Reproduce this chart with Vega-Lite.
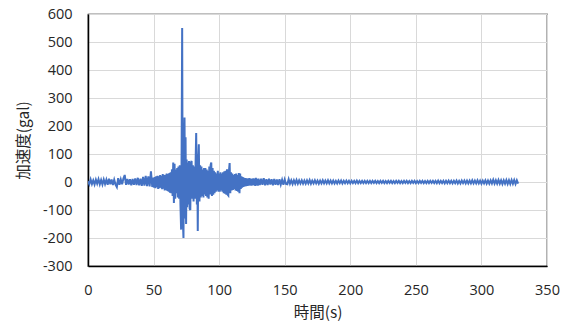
{
  "$schema": "https://vega.github.io/schema/vega-lite/v6.json",
  "autosize": {"type": "none"},
  "padding": {"left": 88, "top": 14, "right": 22, "bottom": 61},
  "width": 459,
  "height": 252,
  "background": "#ffffff",
  "config": {
    "view": {"stroke": "#000000", "strokeWidth": 1.2},
    "axis": {
      "labelFont": "Open Sans",
      "labelFontSize": 14.5,
      "labelColor": "#262626",
      "labelFlush": false,
      "labelOverlap": false,
      "titleFont": "Noto Sans CJK JP",
      "titleFontSize": 15.5,
      "titleFontWeight": "normal",
      "titleColor": "#262626",
      "gridColor": "#d9d9d9",
      "gridWidth": 1,
      "ticks": false,
      "domain": true,
      "domainColor": "#000000",
      "domainWidth": 1.5
    }
  },
  "layer": [
    {
      "data": {
        "values": [
          {"t":0,"a":3},{"t":1,"a":-8},{"t":2,"a":9},{"t":3,"a":-7},{"t":4,"a":6},{"t":5,"a":-9},{"t":6,"a":8},{"t":7,"a":-6},{"t":8,"a":10},{"t":9,"a":-8},
          {"t":10,"a":7},{"t":11,"a":-9},{"t":12,"a":9},{"t":13,"a":-7},{"t":14,"a":8},{"t":15,"a":-10},{"t":16,"a":12},{"t":17,"a":-8},{"t":18,"a":9},{"t":19,"a":-11},
          {"t":20,"a":8},{"t":21,"a":-9},{"t":22,"a":-18},{"t":23,"a":14},{"t":24,"a":-10},{"t":25,"a":9},{"t":26,"a":-8},{"t":27,"a":12},{"t":28,"a":25},{"t":29,"a":-10},
          {"t":30,"a":11},{"t":31,"a":-9},{"t":32,"a":10},{"t":33,"a":-12},{"t":34,"a":11},{"t":35,"a":-10},{"t":36,"a":13},{"t":37,"a":-11},{"t":38,"a":15},{"t":39,"a":-12},
          {"t":40,"a":12},{"t":41,"a":-14},{"t":42,"a":18},{"t":43,"a":-13},{"t":44,"a":22},{"t":45,"a":-15},{"t":46,"a":20},{"t":47,"a":-16},{"t":48,"a":38},{"t":49,"a":-18},
          {"t":50,"a":16},{"t":50.5,"a":-20},{"t":51,"a":18},{"t":51.5,"a":-22},{"t":52,"a":20},{"t":52.5,"a":-18},{"t":53,"a":22},{"t":53.5,"a":-25},{"t":54,"a":20},{"t":54.5,"a":-22},
          {"t":55,"a":25},{"t":55.5,"a":-20},{"t":56,"a":22},{"t":56.5,"a":-26},{"t":57,"a":28},{"t":57.5,"a":-24},{"t":58,"a":25},{"t":58.5,"a":-30},{"t":59,"a":26},{"t":59.5,"a":-28},
          {"t":60,"a":30},{"t":60.5,"a":-32},{"t":61,"a":28},{"t":61.5,"a":-35},{"t":62,"a":32},{"t":62.5,"a":-38},{"t":63,"a":35},{"t":63.5,"a":-40},{"t":64,"a":45},{"t":64.5,"a":-50},
          {"t":65,"a":70},{"t":65.5,"a":-75},{"t":66,"a":65},{"t":66.5,"a":-60},{"t":67,"a":45},{"t":67.5,"a":-40},{"t":68,"a":50},{"t":68.5,"a":-55},{"t":69,"a":55},{"t":69.5,"a":-60},
          {"t":70,"a":60},{"t":70.5,"a":-80},{"t":71,"a":-170},{"t":71.4,"a":120},{"t":71.8,"a":550},{"t":72.2,"a":-120},{"t":72.8,"a":-200},{"t":73.2,"a":100},{"t":73.6,"a":230},{"t":74,"a":-130},
          {"t":74.4,"a":160},{"t":74.8,"a":-150},{"t":75.2,"a":80},{"t":75.6,"a":-90},{"t":76,"a":70},{"t":76.5,"a":-80},{"t":77,"a":75},{"t":77.5,"a":-95},{"t":78,"a":-100},{"t":78.5,"a":70},
          {"t":79,"a":75},{"t":79.5,"a":-60},{"t":80,"a":60},{"t":80.5,"a":-70},{"t":81,"a":55},{"t":81.5,"a":-60},{"t":82,"a":60},{"t":82.5,"a":175},{"t":83,"a":-80},{"t":83.3,"a":100},
          {"t":83.7,"a":-175},{"t":84.1,"a":80},{"t":84.5,"a":135},{"t":85,"a":-70},{"t":85.5,"a":60},{"t":86,"a":-55},{"t":86.5,"a":55},{"t":87,"a":-50},{"t":87.5,"a":45},{"t":88,"a":-55},
          {"t":88.5,"a":50},{"t":89,"a":-45},{"t":89.5,"a":50},{"t":90,"a":-50},{"t":90.5,"a":45},{"t":91,"a":-55},{"t":91.5,"a":40},{"t":92,"a":-60},{"t":92.5,"a":55},{"t":93,"a":-45},
          {"t":93.5,"a":60},{"t":94,"a":70},{"t":94.5,"a":-50},{"t":95,"a":50},{"t":95.5,"a":-45},{"t":96,"a":40},{"t":96.5,"a":-40},{"t":97,"a":35},{"t":97.5,"a":-35},{"t":98,"a":30},
          {"t":98.5,"a":-30},{"t":99,"a":40},{"t":99.5,"a":-35},{"t":100,"a":30},{"t":100.5,"a":-35},{"t":101,"a":35},{"t":101.5,"a":-30},{"t":102,"a":30},{"t":102.5,"a":-35},{"t":103,"a":35},
          {"t":103.5,"a":-40},{"t":104,"a":38},{"t":104.5,"a":-42},{"t":105,"a":40},{"t":105.5,"a":-45},{"t":106,"a":45},{"t":106.5,"a":-45},{"t":107,"a":-48},{"t":107.5,"a":40},{"t":108,"a":68},
          {"t":108.5,"a":-40},{"t":109,"a":35},{"t":109.5,"a":-30},{"t":110,"a":30},{"t":110.5,"a":-28},{"t":111,"a":25},{"t":111.5,"a":-25},{"t":112,"a":28},{"t":112.5,"a":-30},{"t":113,"a":30},
          {"t":113.5,"a":-32},{"t":114,"a":25},{"t":114.5,"a":-35},{"t":115,"a":32},{"t":115.5,"a":-40},{"t":116,"a":30},{"t":116.5,"a":-25},{"t":117,"a":20},{"t":117.5,"a":-20},{"t":118,"a":18},
          {"t":118.5,"a":-18},{"t":119,"a":15},{"t":119.5,"a":-16},{"t":120,"a":14},{"t":120.5,"a":-15},{"t":121,"a":13},{"t":121.5,"a":-14},{"t":122,"a":12},{"t":122.5,"a":-13},{"t":123,"a":14},
          {"t":123.5,"a":-12},{"t":124,"a":12},{"t":124.5,"a":-13},{"t":125,"a":11},{"t":125.5,"a":-12},{"t":126,"a":13},{"t":126.5,"a":-11},{"t":127,"a":12},{"t":127.5,"a":-14},{"t":128,"a":15},
          {"t":128.5,"a":-12},{"t":129,"a":11},{"t":129.5,"a":-13},{"t":130,"a":12},{"t":131,"a":-11},{"t":132,"a":12},{"t":133,"a":-10},{"t":134,"a":14},{"t":135,"a":-12},{"t":136,"a":10},
          {"t":137,"a":-11},{"t":138,"a":12},{"t":139,"a":-9},{"t":140,"a":10},{"t":141,"a":-12},{"t":142,"a":11},{"t":143,"a":-10},{"t":144,"a":9},{"t":145,"a":-11},{"t":146,"a":10},
          {"t":147,"a":-9},{"t":148,"a":8},{"t":149,"a":-10},{"t":150,"a":9},{"t":151,"a":-7},{"t":152,"a":-8},{"t":153,"a":10},{"t":154,"a":-6},{"t":155,"a":6},{"t":156,"a":-7},
          {"t":157,"a":6},{"t":158,"a":-6},{"t":159,"a":7},{"t":160,"a":-6},{"t":161,"a":6},{"t":162,"a":-5},{"t":163,"a":6},{"t":164,"a":-6},{"t":165,"a":5},{"t":166,"a":-6},
          {"t":167,"a":6},{"t":168,"a":-5},{"t":169,"a":7},{"t":170,"a":-6},{"t":171,"a":5},{"t":172,"a":-5},{"t":173,"a":6},{"t":174,"a":-5},{"t":175,"a":5},{"t":176,"a":-6},
          {"t":177,"a":5},{"t":178,"a":-5},{"t":179,"a":6},{"t":180,"a":-5},{"t":181,"a":5},{"t":182,"a":-5},{"t":183,"a":6},{"t":184,"a":-5},{"t":185,"a":5},{"t":186,"a":-5},
          {"t":187,"a":5},{"t":188,"a":-5},{"t":189,"a":4},{"t":190,"a":-5},{"t":191,"a":5},{"t":192,"a":-4},{"t":193,"a":5},{"t":194,"a":-5},{"t":195,"a":4},{"t":196,"a":-4},
          {"t":197,"a":5},{"t":198,"a":-4},{"t":199,"a":4},{"t":200,"a":-5},{"t":201,"a":4},{"t":202,"a":-4},{"t":203,"a":4},{"t":204,"a":-4},{"t":205,"a":5},{"t":206,"a":-4},
          {"t":207,"a":4},{"t":208,"a":-4},{"t":209,"a":4},{"t":210,"a":-4},{"t":211,"a":4},{"t":212,"a":-4},{"t":213,"a":4},{"t":214,"a":-4},{"t":215,"a":4},{"t":216,"a":-4},
          {"t":217,"a":4},{"t":218,"a":-3},{"t":219,"a":4},{"t":220,"a":-4},{"t":221,"a":3},{"t":222,"a":-4},{"t":223,"a":4},{"t":224,"a":-3},{"t":225,"a":4},{"t":226,"a":-4},
          {"t":227,"a":3},{"t":228,"a":-4},{"t":229,"a":4},{"t":230,"a":-3},{"t":231,"a":4},{"t":232,"a":-4},{"t":233,"a":3},{"t":234,"a":-4},{"t":235,"a":4},{"t":236,"a":-3},
          {"t":237,"a":4},{"t":238,"a":-4},{"t":239,"a":3},{"t":240,"a":-4},{"t":241,"a":4},{"t":242,"a":-3},{"t":243,"a":4},{"t":244,"a":-4},{"t":245,"a":3},{"t":246,"a":-4},
          {"t":247,"a":4},{"t":248,"a":-3},{"t":249,"a":4},{"t":250,"a":-4},{"t":251,"a":3},{"t":252,"a":-4},{"t":253,"a":4},{"t":254,"a":-3},{"t":255,"a":4},{"t":256,"a":-4},
          {"t":257,"a":3},{"t":258,"a":-4},{"t":259,"a":4},{"t":260,"a":-4},{"t":261,"a":4},{"t":262,"a":-3},{"t":263,"a":4},{"t":264,"a":-4},{"t":265,"a":4},{"t":266,"a":-4},
          {"t":267,"a":5},{"t":268,"a":-4},{"t":269,"a":4},{"t":270,"a":-4},{"t":271,"a":4},{"t":272,"a":-5},{"t":273,"a":4},{"t":274,"a":-4},{"t":275,"a":5},{"t":276,"a":-4},
          {"t":277,"a":4},{"t":278,"a":-5},{"t":279,"a":4},{"t":280,"a":-4},{"t":281,"a":5},{"t":282,"a":-5},{"t":283,"a":4},{"t":284,"a":-5},{"t":285,"a":5},{"t":286,"a":-4},
          {"t":287,"a":5},{"t":288,"a":-5},{"t":289,"a":5},{"t":290,"a":-5},{"t":291,"a":5},{"t":292,"a":-5},{"t":293,"a":6},{"t":294,"a":-5},{"t":295,"a":5},{"t":296,"a":-5},
          {"t":297,"a":6},{"t":298,"a":-5},{"t":299,"a":5},{"t":300,"a":-6},{"t":301,"a":5},{"t":302,"a":-5},{"t":303,"a":6},{"t":304,"a":-6},{"t":305,"a":5},{"t":306,"a":-6},
          {"t":307,"a":6},{"t":308,"a":-5},{"t":309,"a":8},{"t":310,"a":-6},{"t":311,"a":6},{"t":312,"a":-6},{"t":313,"a":7},{"t":314,"a":-6},{"t":315,"a":6},{"t":316,"a":-7},
          {"t":317,"a":6},{"t":318,"a":-6},{"t":319,"a":7},{"t":320,"a":-7},{"t":321,"a":6},{"t":322,"a":-7},{"t":323,"a":7},{"t":324,"a":-6},{"t":325,"a":7},{"t":326,"a":-7},
          {"t":327,"a":6},{"t":328,"a":-6}
        ]
      },
      "mark": {"type": "line", "color": "#4472C4", "strokeWidth": 2, "clip": true},
      "encoding": {
        "x": {
          "field": "t", "type": "quantitative", "title": "時間(s)",
          "scale": {"domain": [0, 350], "nice": false},
          "axis": {"values": [0, 50, 100, 150, 200, 250, 300, 350], "labelPadding": 17, "titlePadding": 9, "labelOverlap": false}
        },
        "y": {
          "field": "a", "type": "quantitative", "title": "加速度(gal)",
          "scale": {"domain": [-300, 600], "nice": false},
          "axis": {"values": [-300, -200, -100, 0, 100, 200, 300, 400, 500, 600], "labelPadding": 16, "titlePadding": 11, "labelOverlap": false, "labelExpr": "'' + datum.value"}
        }
      }
    },
    {
      "mark": {"type": "rule", "color": "#000000", "strokeWidth": 1.5},
      "encoding": {
        "y": {
          "datum": 600, "type": "quantitative", "title": "加速度(gal)",
          "scale": {"domain": [-300, 600], "nice": false},
          "axis": {"values": [-300, -200, -100, 0, 100, 200, 300, 400, 500, 600], "labelPadding": 16, "titlePadding": 11, "labelOverlap": false, "labelExpr": "'' + datum.value"}
        }
      }
    },
    {
      "mark": {"type": "rule", "color": "#000000", "strokeWidth": 1.5},
      "encoding": {
        "x": {
          "datum": 350, "type": "quantitative", "title": "時間(s)",
          "scale": {"domain": [0, 350], "nice": false},
          "axis": {"values": [0, 50, 100, 150, 200, 250, 300, 350], "labelPadding": 17, "titlePadding": 9, "labelOverlap": false}
        }
      }
    }
  ]
}
